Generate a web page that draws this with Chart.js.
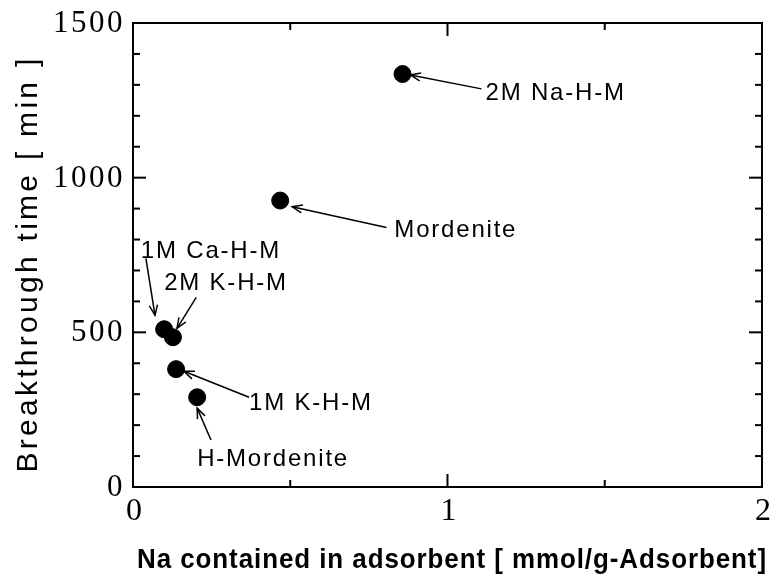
<!DOCTYPE html>
<html>
<head>
<meta charset="utf-8">
<script src="https://cdn.jsdelivr.net/npm/chart.js@4.4.1/dist/chart.umd.min.js"></script>
<style>
  html, body { margin: 0; padding: 0; background: #fff; }
  #wrap { width: 776px; height: 588px; position: relative; }
</style>
</head>
<body>
<div id="wrap"><canvas id="chart"></canvas></div>
<script>
// measured samples: Na content (mmol/g) vs breakthrough time (min)
const naContent = [0.857, 0.468, 0.099, 0.127, 0.137, 0.204];
const breakthrough = [1335, 926, 510, 484, 381, 290];

// annotations (data coordinates)
const noteLabels = ['2M Na-H-M', 'Mordenite', '1M Ca-H-M', '2M K-H-M', '1M K-H-M', 'H-Mordenite'];
const noteTextX = [1.121, 0.831, 0.025, 0.099, 0.369, 0.204];
const noteTextY = [1274, 829, 761, 658, 271, 90];
const arrowFromX = [1.108, 0.806, 0.041, 0.201, 0.369, 0.248];
const arrowFromY = [1287, 839, 739, 613, 290, 152];
const arrowToX = [0.882, 0.506, 0.070, 0.140, 0.162, 0.204];
const arrowToY = [1332, 906, 555, 513, 374, 255];

// axis ticks
const xMajor = [0, 1, 2];
const xMinor = [0.5, 1.5];
const yMajor = [0, 500, 1000, 1500];
const yMinor = [100, 200, 300, 400, 600, 700, 800, 900, 1100, 1200, 1300, 1400];

const yTitle = 'Breakthrough time [ min ]';
const xTitle = 'Na contained in adsorbent [ mmol/g-Adsorbent]';

const frame = {
    id: 'frame',
    afterDraw(chart) {
        const { ctx, chartArea: a, scales: { x, y } } = chart;
        ctx.save();
        ctx.strokeStyle = '#000';
        ctx.lineWidth = 2;
        ctx.strokeRect(a.left, a.top, a.right - a.left, a.bottom - a.top);

        // inward ticks on all four sides
        const tick = (x1, y1, x2, y2) => {
            ctx.beginPath();
            ctx.moveTo(x1, y1);
            ctx.lineTo(x2, y2);
            ctx.stroke();
        };
        xMajor.forEach(v => {
            const px = x.getPixelForValue(v);
            tick(px, a.bottom, px, a.bottom - 13);
            tick(px, a.top, px, a.top + 13);
        });
        xMinor.forEach(v => {
            const px = x.getPixelForValue(v);
            tick(px, a.bottom, px, a.bottom - 7);
            tick(px, a.top, px, a.top + 7);
        });
        yMajor.forEach(v => {
            const py = y.getPixelForValue(v);
            tick(a.left, py, a.left + 13, py);
            tick(a.right, py, a.right - 13, py);
        });
        yMinor.forEach(v => {
            const py = y.getPixelForValue(v);
            tick(a.left, py, a.left + 7, py);
            tick(a.right, py, a.right - 7, py);
        });

        // tick labels
        ctx.fillStyle = '#000';
        ctx.font = '31px "Liberation Serif", "Times New Roman", serif';
        ctx.letterSpacing = '2.5px';
        ctx.textBaseline = 'middle';
        ctx.textAlign = 'right';
        yMajor.forEach(v => {
            ctx.fillText(String(v), a.left - 8, y.getPixelForValue(v) + 1);
        });
        ctx.font = '32px "Liberation Serif", "Times New Roman", serif';
        ctx.letterSpacing = '0px';
        ctx.textAlign = 'center';
        xMajor.forEach(v => {
            ctx.fillText(String(v), x.getPixelForValue(v) + 1, a.bottom + 25);
        });

        // y title, letter-spaced to the measured length
        ctx.font = '30px "Liberation Sans", Arial, sans-serif';
        const yBase = ctx.measureText(yTitle).width;
        ctx.letterSpacing = ((417 - yBase) / yTitle.length) + 'px';
        ctx.save();
        ctx.translate(29, 264);
        ctx.rotate(-Math.PI / 2);
        ctx.fillText(yTitle, 0, 0);
        ctx.restore();

        // x title, condensed bold
        ctx.font = 'bold 28px "Liberation Sans", Arial, sans-serif';
        ctx.letterSpacing = '1px';
        const xw = ctx.measureText(xTitle).width;
        ctx.save();
        ctx.translate(452, 560);
        ctx.scale(630 / xw, 1);
        ctx.fillText(xTitle, 0, 0);
        ctx.restore();

        // annotations with open arrowheads
        ctx.font = '24px "Liberation Sans", Arial, sans-serif';
        ctx.letterSpacing = '1.8px';
        ctx.textAlign = 'left';
        ctx.lineWidth = 1.5;
        noteLabels.forEach((txt, i) => {
            ctx.fillText(txt, x.getPixelForValue(noteTextX[i]), y.getPixelForValue(noteTextY[i]));
            const x1 = x.getPixelForValue(arrowFromX[i]), y1 = y.getPixelForValue(arrowFromY[i]);
            const x2 = x.getPixelForValue(arrowToX[i]), y2 = y.getPixelForValue(arrowToY[i]);
            tick(x1, y1, x2, y2);
            const ang = Math.atan2(y1 - y2, x1 - x2);
            const len = 11, spread = 0.38;
            ctx.beginPath();
            ctx.moveTo(x2 + len * Math.cos(ang + spread), y2 + len * Math.sin(ang + spread));
            ctx.lineTo(x2, y2);
            ctx.lineTo(x2 + len * Math.cos(ang - spread), y2 + len * Math.sin(ang - spread));
            ctx.stroke();
        });
        ctx.restore();
    }
};

new Chart(document.getElementById('chart'), {
    type: 'scatter',
    data: {
        datasets: [{
            data: naContent.map((v, i) => ({ x: v, y: breakthrough[i] })),
            backgroundColor: '#000',
            borderColor: '#000',
            pointRadius: 8.5,
            pointHoverRadius: 8.5
        }]
    },
    options: {
        responsive: true,
        maintainAspectRatio: false,
        animation: false,
        layout: { padding: { left: 0, top: 23, right: 14, bottom: 0 } },
        plugins: {
            legend: { display: false },
            tooltip: { enabled: false }
        },
        scales: {
            x: {
                min: 0,
                max: 2,
                grid: { display: false, drawTicks: false },
                border: { display: false },
                ticks: { display: false },
                afterFit: function(scale) { scale.height = 101; }
            },
            y: {
                min: 0,
                max: 1500,
                grid: { display: false, drawTicks: false },
                border: { display: false },
                ticks: { display: false },
                afterFit: function(scale) { scale.width = 133; }
            }
        }
    },
    plugins: [frame]
});
</script>
</body>
</html>
